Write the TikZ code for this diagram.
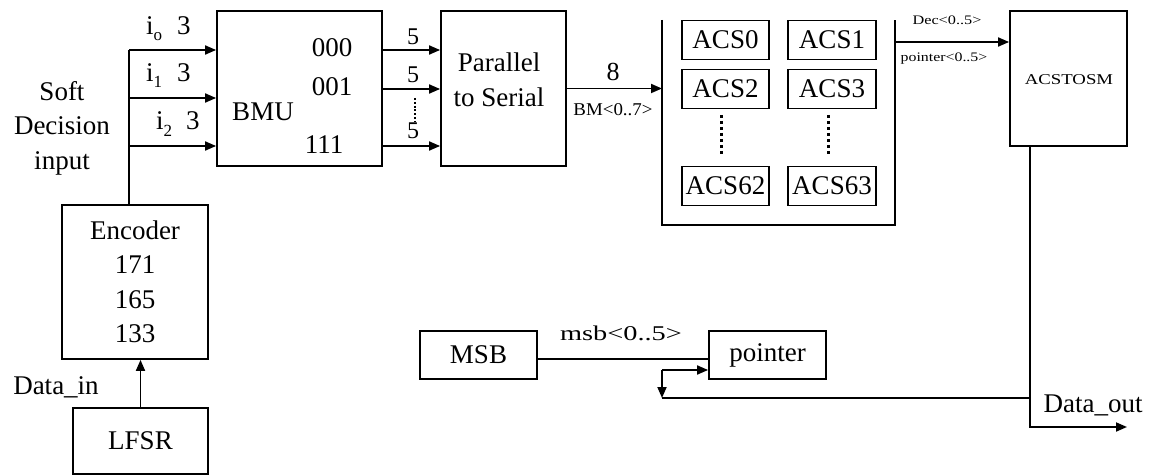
\documentclass[tikz,border=0pt]{standalone}
\usepackage{fontspec}
\setmainfont{Liberation Serif}
\usepackage{graphicx}
\usetikzlibrary{arrows.meta}
\newcommand{\hstr}[2]{\scalebox{#1}[1]{#2}}
\begin{document}
\begin{tikzpicture}[x=1pt,y=-1pt,
  blk/.style={draw, line width=1.8pt, inner sep=0pt, align=center, font=\fontsize{27}{34.5}\selectfont},
  lbl/.style={inner sep=0pt, align=center, font=\fontsize{27}{34.5}\selectfont},
  sml/.style={inner sep=0pt, align=center},
  wire/.style={line width=1.8pt},
  arr/.style={wire, -{Triangle[length=11pt,width=9pt]}},
  dotline/.style={line width=3pt, dash pattern=on 3.5pt off 2.5pt}]
\useasboundingbox[fill=white] (0,0) rectangle (1151,476);

% blocks
\node[blk, minimum width=165pt, minimum height=155pt] (bmu) at (299.5,88.5) {};
\node[blk, minimum width=125pt, minimum height=155pt] (p2s) at (503.5,88.5) {};
\node[blk, minimum width=117pt, minimum height=135pt] (acst) at (1068.5,78.5) {};
\node[blk, minimum width=146pt, minimum height=154pt] (enc) at (135,282) {Encoder\\171\\165\\133};
\node[blk, minimum width=135pt, minimum height=66pt] (lfsr) at (140.5,441) {LFSR};
\node[blk, minimum width=117pt, minimum height=48pt] (msb) at (478.5,355) {MSB};
\node[blk, minimum width=117pt, minimum height=48pt] (ptr) at (767.5,355) {pointer};

\node[blk, minimum width=87pt, minimum height=39pt] (a0) at (725.5,40) {ACS0};
\node[blk, minimum width=87pt, minimum height=39pt] (a2) at (725.5,89) {ACS2};
\node[blk, minimum width=87pt, minimum height=39pt] (a62) at (725.5,186) {ACS62};
\node[blk, minimum width=88pt, minimum height=39pt] (a1) at (832,40) {ACS1};
\node[blk, minimum width=88pt, minimum height=39pt] (a3) at (832,89) {ACS3};
\node[blk, minimum width=88pt, minimum height=39pt] (a63) at (832,186) {ACS63};

% block texts
\node[lbl] (bmut) at (263,112) {BMU};
\node[lbl] (s000) at (332,48) {000};
\node[lbl] (s001) at (332,87) {001};
\node[lbl] (s111) at (324,145) {111};
\node[lbl] (p2st) at (499,80) {Parallel\\to Serial};
\node[sml, font=\fontsize{15}{15}\selectfont] (acstt) at (1069,80) {\hstr{1.25}{ACSTOSM}};

% ACS container
\coordinate (cTL) at (662,20);
\coordinate (cBL) at (662,225);
\coordinate (cBR) at (895,225);
\coordinate (cTR) at (895,20);
\draw[wire] (cTL) -- (cBL) -- (cBR) -- (cTR);
\coordinate (d0a) at (721,115); \coordinate (d0b) at (721,155);
\coordinate (d1a) at (828,115); \coordinate (d1b) at (828,155);
\draw[dotline] (d0a) -- (d0b);
\draw[dotline] (d1a) -- (d1b);

% input trunk
\coordinate (t0) at (129,50);
\coordinate (t1) at (129,98);
\coordinate (t2) at (129,146);
\draw[wire] (enc.north -| t0) -- (t0);
\draw[arr] (t0) -- (bmu.west |- t0);
\draw[arr] (t1) -- (bmu.west |- t1);
\draw[arr] (t2) -- (bmu.west |- t2);
\node[lbl, anchor=base west] (li0) at (146,35) {i\raisebox{-6pt}{\fontsize{17}{17}\selectfont o}\hspace{15pt}3};
\node[lbl, anchor=base west] (li1) at (146,82) {i\raisebox{-6pt}{\fontsize{17}{17}\selectfont 1}\hspace{15pt}3};
\node[lbl, anchor=base west] (li2) at (156,130) {i\raisebox{-6pt}{\fontsize{17}{17}\selectfont 2}\hspace{14pt}3};
\node[lbl] (soft) at (62,128) {Soft\\Decision\\input};

% BMU outputs
\coordinate (m1) at (382,89);
\draw[arr] (bmu.east |- t0) -- (p2s.west |- t0);
\draw[arr] (m1) -- (p2s.west |- m1);
\draw[arr] (bmu.east |- t2) -- (p2s.west |- t2);
\node[sml, font=\fontsize{24}{24}\selectfont] (f0) at (413,37) {5};
\node[sml, font=\fontsize{24}{24}\selectfont] (f1) at (413,75) {5};
\node[sml, font=\fontsize{24}{24}\selectfont] (f2) at (413,131) {5};
\coordinate (dd0) at (415,98); \coordinate (dd1) at (415,121);
\draw[line width=2pt, dash pattern=on 2pt off 1.8pt] (dd0) -- (dd1);

% P2S -> ACS
\draw[arr] (p2s.east) -- (p2s.east -| cTL);
\node[sml, font=\fontsize{26}{26}\selectfont] (l8) at (613,72) {8};
\node[sml, font=\fontsize{18}{18}\selectfont] (lbm) at (613,110) {\hstr{1.05}{BM<0..7>}};

% ACS -> ACSTOSM
\coordinate (dec) at (895,42);
\draw[arr] (dec) -- (acst.west |- dec);
\node[sml, font=\fontsize{13}{13}\selectfont] (ldec) at (947,20) {\hstr{1.25}{Dec<0..5>}};
\node[sml, font=\fontsize{13}{13}\selectfont] (lptr) at (944,59) {\hstr{1.22}{pointer<0..5>}};

% output
\coordinate (oc) at (1030,427);
\coordinate (oend) at (1127,427);
\draw[arr] (acst.south -| oc) -- (oc) -- (oend);
\node[lbl] (dout) at (1093,405) {Data\_out};

% feedback
\coordinate (fb0) at (662,370);
\coordinate (fb1) at (662,398);
\draw[wire] (fb1 -| oc) -- (fb1);
\draw[arr] (fb0) -- (fb1);
\draw[arr] (fb0) -- (ptr.west |- fb0);

% MSB -> pointer
\draw[wire] ([yshift=-4pt]msb.east) -- ([yshift=-4pt]ptr.west);
\node[sml, font=\fontsize{21}{21}\selectfont] (lmsb) at (621,333) {\hstr{1.35}{msb<0..5>}};

% LFSR -> Encoder
\draw[arr] (lfsr.north) -- (enc.south -| lfsr.north);
\node[lbl] (din) at (56,387) {Data\_in};
\end{tikzpicture}
\end{document}
